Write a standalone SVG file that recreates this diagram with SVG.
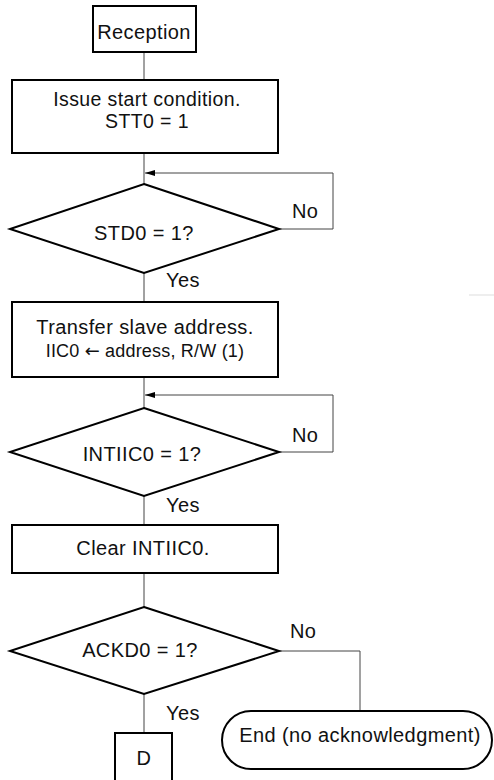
<svg xmlns="http://www.w3.org/2000/svg" width="494" height="780" viewBox="0 0 494 780">
<style>
.box{fill:#fff;stroke:#000;stroke-width:2}
.conn{fill:none;stroke:#444;stroke-width:1}
text{font-family:"Liberation Sans",Arial,sans-serif;font-size:20px;letter-spacing:0.4px;fill:#111}
.c{text-anchor:middle}
.ar{font-family:"DejaVu Sans",sans-serif;letter-spacing:0}
</style>
<defs>
<marker id="ah" markerWidth="10" markerHeight="6" refX="10" refY="3" orient="auto" markerUnits="userSpaceOnUse">
<path d="M0,0 L10,3 L0,6 Z" fill="#000"/>
</marker>
</defs>
<rect width="494" height="780" fill="#fff"/>
<g id="connectors">
<path class="conn" d="M144,52 V80"/>
<path class="conn" d="M144,153 V184"/>
<path class="conn" d="M279,229 H333 V173 H145" marker-end="url(#ah)"/>
<path class="conn" d="M144,273 V302"/>
<path class="conn" d="M144,377 V408"/>
<path class="conn" d="M279,452 H333 V395 H145" marker-end="url(#ah)"/>
<path class="conn" d="M144,496 V525"/>
<path class="conn" d="M144,573 V607"/>
<path class="conn" d="M279,651 H360 V711"/>
<path class="conn" d="M144,694 V733"/>
<path d="M469,295 H494" stroke="#ddd" stroke-width="1"/>
</g>
<g id="reception">
<rect class="box" x="93" y="6" width="103" height="46"/>
<text class="c" x="144" y="39">Reception</text>
</g>
<g id="issue">
<rect class="box" x="12" y="80" width="266" height="73"/>
<text class="c" x="147" y="106" style="font-size:19.5px">Issue start condition.</text>
<text class="c" x="147" y="128" style="font-size:19.5px">STT0 = 1</text>
</g>
<g id="std0">
<polygon class="box" points="144,184 279,229 144,273 10,229"/>
<text class="c" x="144" y="240">STD0 = 1?</text>
<text x="292" y="218">No</text>
<text x="166" y="287">Yes</text>
</g>
<g id="transfer">
<rect class="box" x="12" y="302" width="266" height="75"/>
<text class="c" x="145" y="334">Transfer slave address.</text>
<text class="c" x="145" y="357" style="font-size:18px;letter-spacing:0.2px">IIC0 <tspan class="ar">←</tspan> address, R/W (1)</text>
</g>
<g id="intiic0">
<polygon class="box" points="144,408 279,452 144,496 10,452"/>
<text class="c" x="142" y="461">INTIIC0 = 1?</text>
<text x="292" y="442">No</text>
<text x="166" y="512">Yes</text>
</g>
<g id="clear">
<rect class="box" x="12" y="525" width="266" height="48"/>
<text class="c" x="143" y="555">Clear INTIIC0.</text>
</g>
<g id="ackd0">
<polygon class="box" points="144,607 279,651 144,694 10,651"/>
<text class="c" x="140" y="657">ACKD0 = 1?</text>
<text x="290" y="638">No</text>
<text x="166" y="720">Yes</text>
</g>
<g id="d">
<rect class="box" x="115" y="733" width="57" height="50"/>
<text class="c" x="144" y="765">D</text>
</g>
<g id="end">
<rect class="box" x="222" y="711" width="270" height="58" rx="29" ry="29"/>
<text class="c" x="360" y="742">End (no acknowledgment)</text>
</g>
</svg>
